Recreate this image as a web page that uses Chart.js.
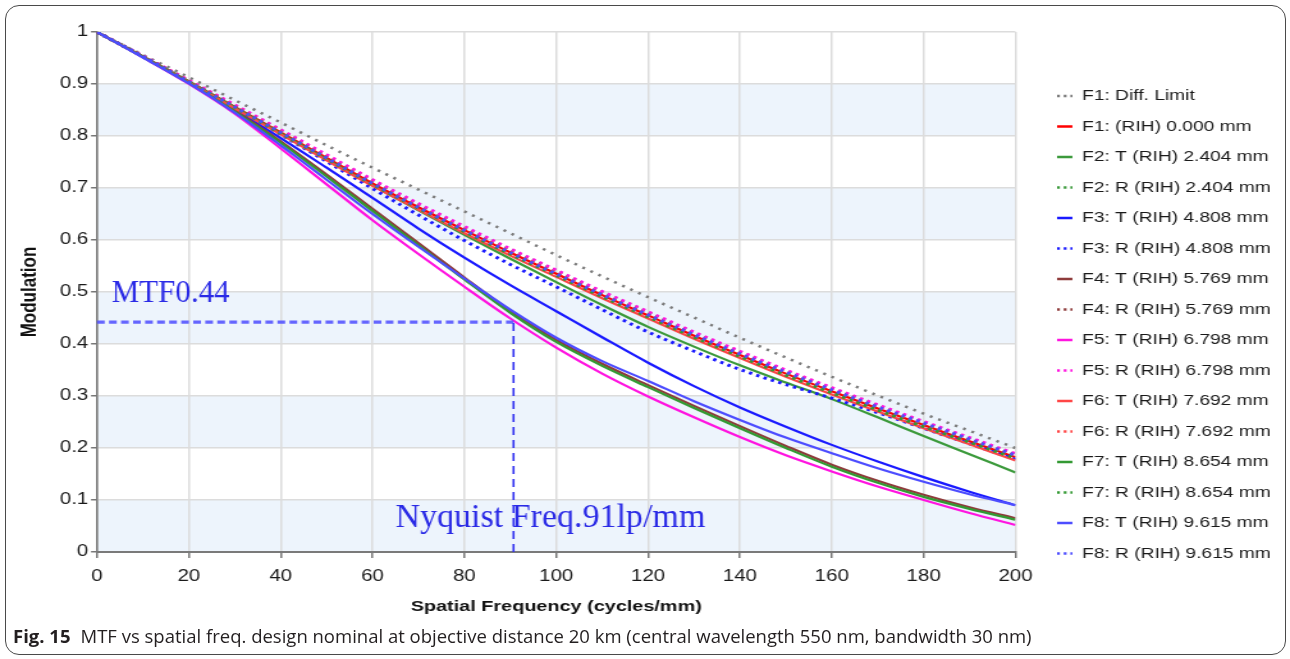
<!DOCTYPE html>
<html><head><meta charset="utf-8">
<script src="https://cdn.jsdelivr.net/npm/chart.js@4.4.1/dist/chart.umd.min.js"></script>
<style>
html,body{margin:0;padding:0;background:#fff;width:1290px;height:659px;overflow:hidden;position:relative;}
#frame{position:absolute;left:5px;top:5px;width:1281px;height:650px;border:1px solid #4a4a4a;border-radius:14px;box-sizing:border-box;}
#wrap{position:absolute;left:0;top:0;width:1008px;height:627px;transform-origin:0 0;}
#caption{position:absolute;left:13px;top:623px;font-family:"Open Sans","Noto Sans",sans-serif;font-size:18.5px;color:#231f20;white-space:nowrap;}
#caption b{font-weight:700;margin-right:10px;}
</style></head><body>
<div id="frame"></div>
<div id="wrap"><canvas id="c" width="1008" height="627"></canvas></div>
<div id="caption"><b>Fig. 15</b>MTF vs spatial freq. design nominal at objective distance 20 km (central wavelength 550 nm, bandwidth 30 nm)</div>
<script>
// ---------- data ----------
const freqs = [0,10,20,30,40,50,60,70,80,90,100,110,120,130,140,150,160,170,180,190,200];
const diffLimit = [1.000,0.956,0.913,0.869,0.826,0.782,0.739,0.697,0.655,0.613,0.571,0.530,0.490,0.451,0.412,0.374,0.337,0.301,0.266,0.233,0.200];
const f1   = [1.000,0.953,0.905,0.856,0.807,0.758,0.709,0.663,0.619,0.576,0.535,0.494,0.455,0.416,0.379,0.343,0.309,0.276,0.244,0.213,0.182];
const f2T  = [1.000,0.953,0.905,0.855,0.805,0.755,0.705,0.657,0.610,0.564,0.519,0.475,0.433,0.395,0.359,0.326,0.294,0.259,0.223,0.188,0.153];
const f2R  = [1.000,0.953,0.906,0.858,0.810,0.761,0.713,0.667,0.623,0.581,0.540,0.499,0.460,0.421,0.384,0.348,0.314,0.281,0.249,0.218,0.187];
const f3T  = [1.000,0.952,0.903,0.850,0.796,0.739,0.681,0.622,0.566,0.513,0.463,0.413,0.364,0.319,0.278,0.241,0.206,0.174,0.144,0.116,0.090];
const f3R  = [1.000,0.953,0.904,0.854,0.803,0.751,0.699,0.648,0.599,0.553,0.510,0.466,0.423,0.386,0.351,0.322,0.296,0.268,0.238,0.208,0.178];
const f4T  = [1.000,0.952,0.903,0.849,0.790,0.726,0.660,0.594,0.528,0.464,0.408,0.362,0.321,0.281,0.242,0.204,0.168,0.137,0.110,0.086,0.065];
const f4R  = [1.000,0.953,0.905,0.856,0.807,0.757,0.708,0.662,0.618,0.575,0.534,0.493,0.454,0.415,0.378,0.342,0.308,0.275,0.243,0.213,0.184];
const f5T  = [1.000,0.951,0.900,0.843,0.776,0.707,0.638,0.573,0.510,0.449,0.393,0.343,0.299,0.259,0.221,0.186,0.155,0.126,0.100,0.075,0.052];
const f5R  = [1.000,0.954,0.907,0.860,0.812,0.764,0.716,0.670,0.626,0.583,0.542,0.501,0.462,0.423,0.386,0.350,0.316,0.283,0.251,0.220,0.189];
const f6T  = [1.000,0.952,0.903,0.853,0.803,0.753,0.704,0.658,0.613,0.570,0.529,0.488,0.449,0.410,0.373,0.337,0.303,0.270,0.238,0.207,0.176];
const f6R  = [1.000,0.953,0.905,0.857,0.808,0.759,0.710,0.664,0.620,0.577,0.536,0.495,0.456,0.417,0.380,0.344,0.310,0.277,0.245,0.215,0.185];
const f7T  = [1.000,0.952,0.902,0.847,0.787,0.722,0.656,0.590,0.524,0.460,0.404,0.358,0.317,0.277,0.238,0.200,0.164,0.133,0.106,0.083,0.062];
const f7R  = [1.000,0.953,0.904,0.855,0.805,0.756,0.707,0.661,0.616,0.573,0.532,0.491,0.452,0.413,0.376,0.340,0.306,0.273,0.241,0.211,0.180];
const f8T  = [1.000,0.951,0.901,0.845,0.782,0.716,0.650,0.587,0.526,0.466,0.412,0.367,0.329,0.290,0.254,0.220,0.190,0.161,0.135,0.111,0.090];
const f8R  = [1.000,0.953,0.904,0.856,0.807,0.758,0.709,0.663,0.619,0.576,0.535,0.495,0.456,0.418,0.381,0.346,0.312,0.279,0.248,0.217,0.186];

const seriesLabels = ['F1: Diff. Limit','F1: (RIH) 0.000 mm','F2: T (RIH) 2.404 mm','F2: R (RIH) 2.404 mm',
  'F3: T (RIH) 4.808 mm','F3: R (RIH) 4.808 mm','F4: T (RIH) 5.769 mm','F4: R (RIH) 5.769 mm',
  'F5: T (RIH) 6.798 mm','F5: R (RIH) 6.798 mm','F6: T (RIH) 7.692 mm','F6: R (RIH) 7.692 mm',
  'F7: T (RIH) 8.654 mm','F7: R (RIH) 8.654 mm','F8: T (RIH) 9.615 mm','F8: R (RIH) 9.615 mm'];
const seriesValues = [diffLimit,f1,f2T,f2R,f3T,f3R,f4T,f4R,f5T,f5R,f6T,f6R,f7T,f7R,f8T,f8R];
const xTickLabels = ['0','20','40','60','80','100','120','140','160','180','200'];
const yTickLabels = ['0','0.1','0.2','0.3','0.4','0.5','0.6','0.7','0.8','0.9','1'];
const yBandEdges = [0,0.1,0.2,0.3,0.4,0.5,0.6,0.7,0.8,0.9,1];
const nyquistFreq = 90.7;
const mtfAtNyquist = 0.442;
const mtfLabel = 'MTF0.44';
const nyquistLabel = 'Nyquist Freq.91lp/mm';

// ---------- styles / layout ----------
const S = 1290 / 1008;
document.getElementById('wrap').style.transform = 'scaleX(' + S + ')';
const seriesColors = ['#7a7a7a','#ff0000','#3c9a3c','#3c9a3c','#1a1aff','#1a1aff','#8e3b3b','#8e3b3b',
  '#ff14e0','#ff14e0','#ff4646','#ff4646','#339933','#339933','#4d4dff','#4d4dff'];
const seriesDotted = [true,false,false,true,false,true,false,true,false,true,false,true,false,true,false,true];
const mtfLabelPos = [3.2, 0.481];
const nyqLabelPos = [65.0, 0.048];
const FONT = '"Liberation Sans", Arial, sans-serif';
const SERIF = '"Liberation Serif", "Times New Roman", serif';

const bandsPlugin = {
  id: 'bands',
  beforeDraw(chart) {
    const {ctx, chartArea: a, scales: {y}} = chart;
    ctx.save();
    ctx.fillStyle = '#edf4fc';
    for (let k = 0; k < yBandEdges.length - 1; k += 2) {
      const top = y.getPixelForValue(yBandEdges[k + 1]);
      const bot = y.getPixelForValue(yBandEdges[k]);
      ctx.fillRect(a.left, top, a.right - a.left, bot - top);
    }
    ctx.restore();
  }
};

function unstretchedText(ctx, str, px, py, font, color) {
  ctx.save();
  ctx.translate(px, py);
  ctx.scale(1 / S, 1);
  ctx.font = font;
  ctx.fillStyle = color;
  ctx.textBaseline = 'alphabetic';
  ctx.textAlign = 'left';
  ctx.fillText(str, 0, 0);
  ctx.restore();
}

const annotPlugin = {
  id: 'annot',
  afterDatasetsDraw(chart) {
    const {ctx, scales: {x, y}} = chart;
    const xn = x.getPixelForValue(nyquistFreq);
    const ym = y.getPixelForValue(mtfAtNyquist);
    unstretchedText(ctx, mtfLabel, x.getPixelForValue(mtfLabelPos[0]), y.getPixelForValue(mtfLabelPos[1]), '31px ' + SERIF, '#2a2ae6');
    unstretchedText(ctx, nyquistLabel, x.getPixelForValue(nyqLabelPos[0]), y.getPixelForValue(nyqLabelPos[1]), '34px ' + SERIF, '#2a2ae6');
    ctx.save();
    ctx.strokeStyle = 'rgba(85,85,255,0.9)';
    ctx.lineWidth = 3.2;
    ctx.setLineDash([6, 3.4]);
    ctx.beginPath();
    ctx.moveTo(x.getPixelForValue(0), ym);
    ctx.lineTo(xn, ym);
    ctx.stroke();
    ctx.strokeStyle = '#3030f0';
    ctx.lineWidth = 1.6;
    ctx.setLineDash([8, 5]);
    ctx.beginPath();
    ctx.moveTo(xn, y.getPixelForValue(0));
    ctx.lineTo(xn, ym);
    ctx.stroke();
    ctx.restore();
  }
};

const legendShift = {
  id: 'legendShift',
  afterLayout(chart) {
    if (chart.legend) { chart.legend.left += 17; chart.legend.right += 17; }
  }
};

const datasets = seriesLabels.map((lab, i) => ({
  label: lab,
  data: freqs.map((f, k) => ({x: f, y: seriesValues[i][k]})),
  borderColor: seriesColors[i],
  backgroundColor: seriesColors[i],
  borderWidth: i === 0 ? 2.5 : (seriesDotted[i] ? 3 : 2.2),
  borderDash: i === 0 ? [2.2, 5] : (seriesDotted[i] ? [2.6, 3.6] : []),
  pointRadius: 0,
  pointHoverRadius: 0,
  fill: false,
  cubicInterpolationMode: 'monotone',
  order: 15 - i
}));

new Chart(document.getElementById('c'), {
  type: 'line',
  data: {datasets},
  plugins: [bandsPlugin, annotPlugin, legendShift],
  options: {
    responsive: false,
    animation: false,
    events: [],
    layout: {padding: {left: 0, top: 32, right: 22, bottom: 0}},
    plugins: {
      tooltip: {enabled: false},
      legend: {
        position: 'right',
        align: 'start',
        maxWidth: 200,
        title: {display: true, text: '', font: {size: 15}, padding: {top: 23, bottom: 0}},
        labels: {
          usePointStyle: true,
          pointStyleWidth: 12,
          boxHeight: 15,
          padding: 15.5,
          color: '#1a1a1a',
          font: {family: FONT, size: 15},
          generateLabels: (chart) => chart.data.datasets.map((ds, i) => ({
            text: ds.label,
            fillStyle: ds.borderColor,
            strokeStyle: ds.borderColor,
            lineWidth: 2.6,
            lineDash: seriesDotted[i] ? [2.2, 3] : [],
            pointStyle: 'line',
            hidden: false,
            datasetIndex: i,
            fontColor: '#1a1a1a'
          }))
        }
      }
    },
    scales: {
      x: {
        type: 'linear', min: 0, max: 200,
        afterFit: (s) => { s.height = 75; },
        ticks: {stepSize: 20, maxRotation: 0, autoSkip: false, padding: 9.4, color: '#1a1a1a',
          font: {family: FONT, size: 16},
          callback: (v) => xTickLabels[Math.round(v / 20)]},
        grid: {color: '#dcdcdc', lineWidth: 1.5, tickLength: 6, tickColor: '#777', tickWidth: 1.5},
        border: {color: '#7a7a7a', width: 2},
        title: {display: true, text: 'Spatial Frequency (cycles/mm)', color: '#111',
          font: {family: FONT, size: 15.5, weight: 'bold'}, padding: {top: 0, bottom: 10.7}}
      },
      y: {
        type: 'linear', min: 0, max: 1,
        afterFit: (s) => { s.width = 75.8; },
        ticks: {stepSize: 0.1, padding: 2.1, color: '#1a1a1a', font: {family: FONT, size: 16},
          callback: (v) => yTickLabels[Math.round(v * 10)]},
        grid: {color: '#dcdcdc', lineWidth: 1.5, tickLength: 4.7, tickColor: '#777', tickWidth: 1.5},
        border: {color: '#7a7a7a', width: 1.6},
        title: {display: true, text: 'Modulation', color: '#111',
          font: {family: FONT, size: 17, weight: 'bold'}, padding: {top: 13.2, bottom: 0}}
      }
    }
  }
});
</script>
</body></html>
